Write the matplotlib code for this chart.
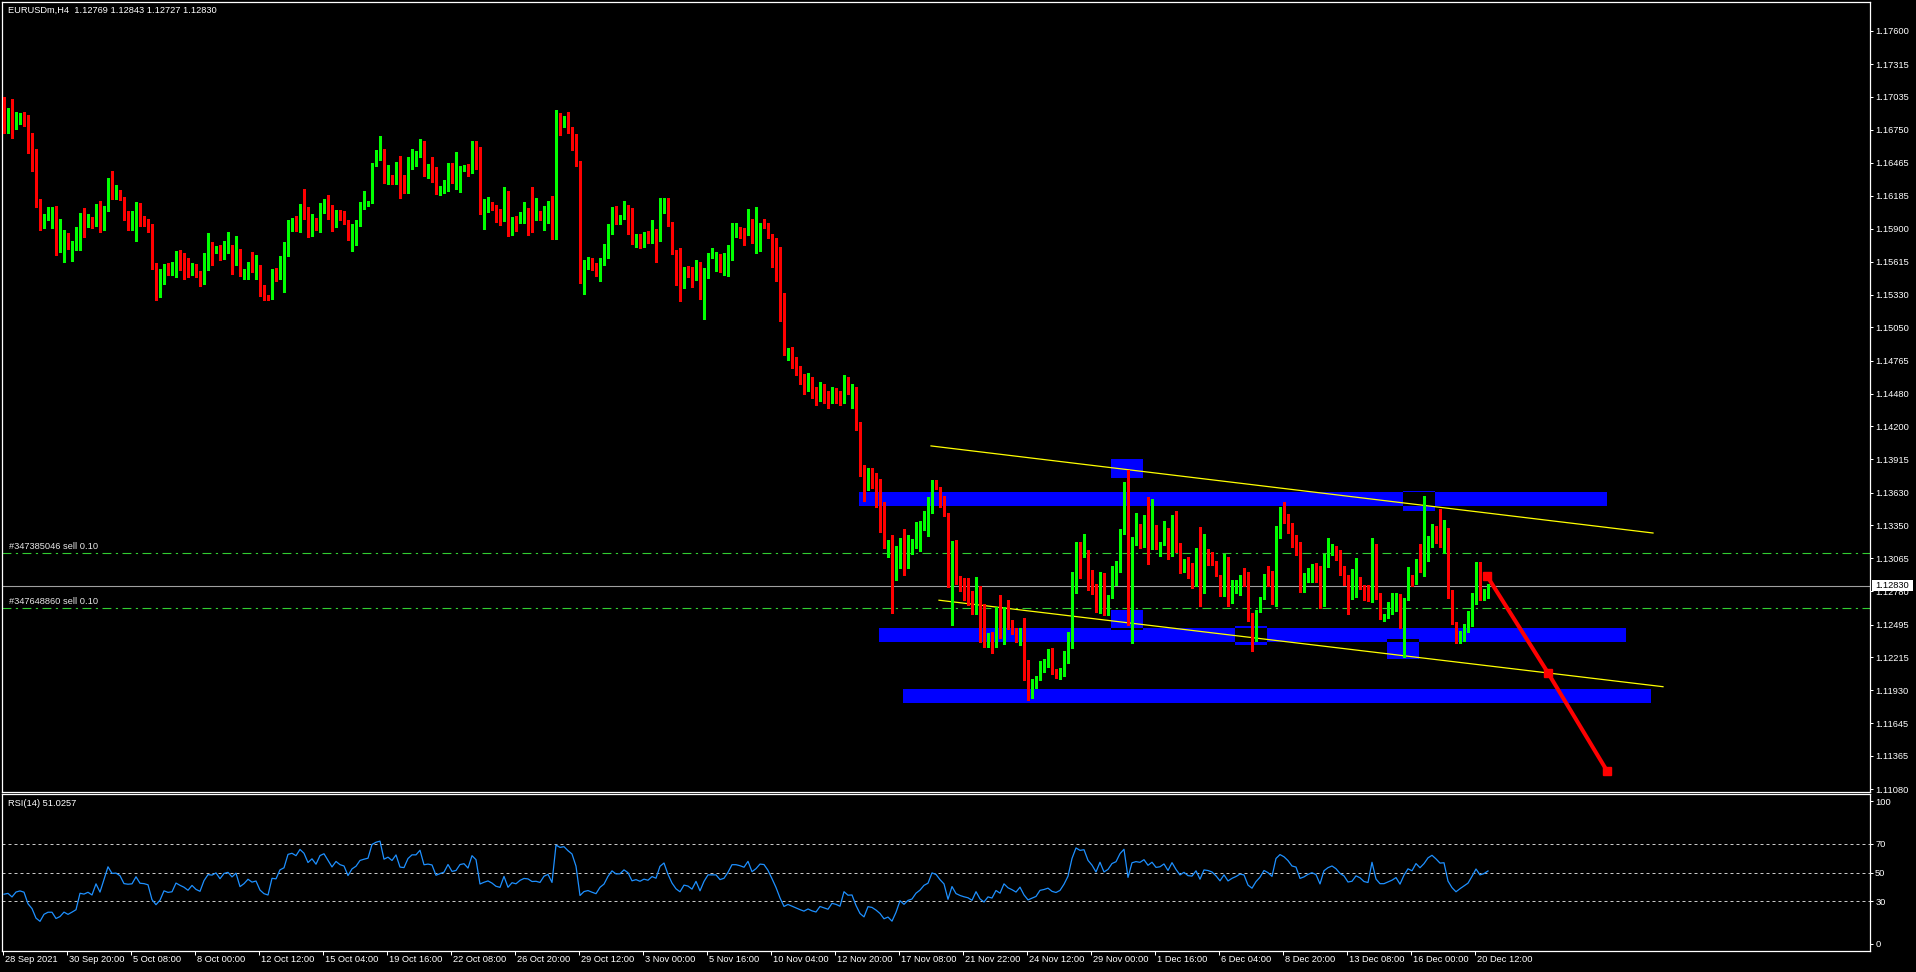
import numpy as np
import matplotlib
matplotlib.use('Agg')
import matplotlib.pyplot as plt
from matplotlib.patches import Rectangle
from matplotlib.transforms import blended_transform_factory

plt.rcParams['font.family'] = ['Liberation Sans', 'DejaVu Sans']
FS = 6.7
FG = 'white'

# ---------------- data (EURUSDm H4) ----------------
first_open = 1.16921

closes = [
    1.16863, 1.16872, 1.16803, 1.16852, 1.16863, 1.16843, 1.16614, 1.16484, 1.16114, 1.15933,
    1.16017, 1.16042, 1.16042, 1.15753, 1.15776, 1.15827, 1.15733, 1.15758, 1.15784, 1.15982,
    1.15962, 1.15985, 1.15925, 1.16068, 1.15890, 1.16086, 1.16335, 1.16200, 1.16206, 1.16154,
    1.15982, 1.15968, 1.15974, 1.16086, 1.15956, 1.15948, 1.15925, 1.15552, 1.15374, 1.15440,
    1.15586, 1.15543, 1.15552, 1.15689, 1.15638, 1.15595, 1.15526, 1.15595, 1.15509, 1.15466,
    1.15618, 1.15715, 1.15707, 1.15741, 1.15646, 1.15724, 1.15741, 1.15672, 1.15724, 1.15494,
    1.15534, 1.15595, 1.15546, 1.15560, 1.15397, 1.15322, 1.15293, 1.15509, 1.15500, 1.15638,
    1.15672, 1.15939, 1.15965, 1.15933, 1.16077, 1.16028, 1.15899, 1.15974, 1.15896, 1.16077,
    1.16120, 1.16028, 1.15925, 1.16034, 1.15985, 1.15965, 1.15810, 1.15925, 1.15974, 1.16086,
    1.16111, 1.16131, 1.16464, 1.16533, 1.16568, 1.16312, 1.16361, 1.16309, 1.16439, 1.16235,
    1.16226, 1.16430, 1.16525, 1.16525, 1.16645, 1.16407, 1.16421, 1.16407, 1.16218, 1.16249,
    1.16275, 1.16421, 1.16301, 1.16318, 1.16430, 1.16447, 1.16381, 1.16637, 1.16576, 1.16068,
    1.16103, 1.16129, 1.16077, 1.15999, 1.15974, 1.16163, 1.15896, 1.15982, 1.15956, 1.16017,
    1.16051, 1.16042, 1.15991, 1.15994, 1.15974, 1.16060, 1.16086, 1.15956, 1.16843, 1.16800,
    1.16826, 1.16757, 1.16700, 1.16464, 1.15491, 1.15595, 1.15621, 1.15552, 1.15491, 1.15638,
    1.15715, 1.15913, 1.16068, 1.15982, 1.15985, 1.16086, 1.16017, 1.15801, 1.15827, 1.15784,
    1.15827, 1.15801, 1.15870, 1.15836, 1.16077, 1.16154, 1.15922, 1.15704, 1.15534, 1.15440,
    1.15569, 1.15543, 1.15457, 1.15603, 1.15328, 1.15526, 1.15681, 1.15681, 1.15681, 1.15569,
    1.15595, 1.15715, 1.15888, 1.15888, 1.15870, 1.15844, 1.15965, 1.15784, 1.15844, 1.15939,
    1.15931, 1.15836, 1.15681, 1.15483, 1.15173, 1.14820, 1.14854, 1.14780, 1.14700, 1.14620,
    1.14550, 1.14580, 1.14500, 1.14450, 1.14520, 1.14470, 1.14420, 1.14490, 1.14460, 1.14403,
    1.14581, 1.14495, 1.14498, 1.14196, 1.13852, 1.13660, 1.13815, 1.13780, 1.13660, 1.13487,
    1.13152, 1.13178, 1.12876, 1.13023, 1.13238, 1.13066, 1.13143, 1.13169, 1.13281, 1.13341,
    1.13436, 1.13479, 1.13703, 1.13668, 1.13539, 1.13427, 1.12885, 1.13178, 1.12885, 1.12799,
    1.12739, 1.12695, 1.12583, 1.12764, 1.12454, 1.12300, 1.12411, 1.12360, 1.12523, 1.12420,
    1.12635, 1.12497, 1.12429, 1.12342, 1.12446, 1.12162, 1.11946, 1.11981, 1.12015, 1.12136,
    1.12153, 1.12179, 1.12084, 1.12050, 1.12084, 1.12187, 1.12334, 1.12773, 1.13160, 1.13109,
    1.13135, 1.12911, 1.12799, 1.12627, 1.12919, 1.12652, 1.12730, 1.12919, 1.12980, 1.13281,
    1.13470, 1.12575, 1.13238, 1.13298, 1.13272, 1.13401, 1.13203, 1.13341, 1.13160, 1.13186,
    1.13298, 1.13083, 1.13393, 1.13160, 1.12954, 1.13048, 1.12928, 1.12911, 1.13083, 1.12790,
    1.13110, 1.13090, 1.13041, 1.12915, 1.12743, 1.12921, 1.12708, 1.12783, 1.12835, 1.12903,
    1.12880, 1.12562, 1.12450, 1.12611, 1.12723, 1.12912, 1.12852, 1.12748, 1.13325, 1.13489,
    1.13432, 1.13334, 1.13190, 1.13162, 1.12826, 1.12869, 1.12938, 1.12981, 1.12932, 1.12662,
    1.13015, 1.13110, 1.13162, 1.13093, 1.12972, 1.12903, 1.12731, 1.12748, 1.12869, 1.12820,
    1.12725, 1.12700, 1.13188, 1.12717, 1.12553, 1.12553, 1.12596, 1.12637, 1.12697, 1.12510,
    1.12723, 1.12895, 1.12846, 1.13050, 1.12950, 1.13067, 1.13248, 1.13334, 1.13259, 1.13170,
    1.13179, 1.12725, 1.12507, 1.12352, 1.12421, 1.12482, 1.12542, 1.12697, 1.12886, 1.12734,
    1.12766, 1.12830,
]

highs = [
    1.17035, 1.16938, 1.17015, 1.16903, 1.16898, 1.16903, 1.16878, 1.16723, 1.16585, 1.16154,
    1.16025, 1.16086, 1.16086, 1.16094, 1.15982, 1.15888, 1.15862, 1.15790, 1.15913, 1.16034,
    1.16077, 1.16025, 1.15996, 1.16111, 1.16137, 1.16097, 1.16335, 1.16398, 1.16275, 1.16229,
    1.16169, 1.16051, 1.16051, 1.16129, 1.16117, 1.16008, 1.15979, 1.15939, 1.15606, 1.15552,
    1.15592, 1.15606, 1.15612, 1.15707, 1.15715, 1.15689, 1.15649, 1.15601, 1.15598, 1.15534,
    1.15689, 1.15862, 1.15784, 1.15750, 1.15758, 1.15793, 1.15870, 1.15758, 1.15836, 1.15724,
    1.15552, 1.15612, 1.15698, 1.15672, 1.15586, 1.15414, 1.15328, 1.15552, 1.15560, 1.15664,
    1.15784, 1.15974, 1.15991, 1.16008, 1.16111, 1.16241, 1.16086, 1.16025, 1.15991, 1.16120,
    1.16154, 1.16189, 1.16103, 1.16060, 1.16060, 1.16051, 1.15974, 1.15942, 1.15974, 1.16129,
    1.16223, 1.16140, 1.16464, 1.16576, 1.16697, 1.16585, 1.16447, 1.16361, 1.16473, 1.16525,
    1.16361, 1.16516, 1.16585, 1.16568, 1.16671, 1.16654, 1.16456, 1.16516, 1.16427, 1.16266,
    1.16318, 1.16464, 1.16464, 1.16559, 1.16439, 1.16447, 1.16456, 1.16654, 1.16654, 1.16602,
    1.16154, 1.16172, 1.16129, 1.16103, 1.16068, 1.16258, 1.16223, 1.15999, 1.16008, 1.16042,
    1.16129, 1.16077, 1.16258, 1.16163, 1.16051, 1.16094, 1.16137, 1.16180, 1.16921, 1.16895,
    1.16869, 1.16903, 1.16774, 1.16714, 1.16482, 1.15629, 1.15655, 1.15646, 1.15603, 1.15646,
    1.15767, 1.15939, 1.16086, 1.16094, 1.16017, 1.16137, 1.16103, 1.16077, 1.15853, 1.15853,
    1.15870, 1.15879, 1.15974, 1.15896, 1.16163, 1.16163, 1.16163, 1.15956, 1.15715, 1.15733,
    1.15569, 1.15578, 1.15569, 1.15629, 1.15612, 1.15560, 1.15690, 1.15733, 1.15698, 1.15681,
    1.15690, 1.15758, 1.15948, 1.15948, 1.15913, 1.15905, 1.16068, 1.15982, 1.16086, 1.15948,
    1.15982, 1.15948, 1.15853, 1.15819, 1.15741, 1.15345, 1.14872, 1.14880, 1.14800, 1.14720,
    1.14650, 1.14660, 1.14620, 1.14540, 1.14580, 1.14560, 1.14500, 1.14540, 1.14530, 1.14500,
    1.14641, 1.14624, 1.14564, 1.14538, 1.14237, 1.13866, 1.13841, 1.13841, 1.13797, 1.13746,
    1.13548, 1.13221, 1.13264, 1.13169, 1.13238, 1.13315, 1.13264, 1.13229, 1.13376, 1.13384,
    1.13470, 1.13591, 1.13737, 1.13737, 1.13677, 1.13599, 1.13453, 1.13212, 1.13221, 1.12911,
    1.12893, 1.12893, 1.12781, 1.12902, 1.12825, 1.12670, 1.12420, 1.12429, 1.12644, 1.12747,
    1.12644, 1.12704, 1.12532, 1.12463, 1.12463, 1.12549, 1.12187, 1.12024, 1.12050, 1.12179,
    1.12196, 1.12282, 1.12291, 1.12110, 1.12119, 1.12265, 1.12429, 1.12945, 1.13203, 1.13203,
    1.13272, 1.13109, 1.12962, 1.12842, 1.12945, 1.12936, 1.12747, 1.12997, 1.13040, 1.13315,
    1.13720, 1.13823, 1.13246, 1.13453, 1.13358, 1.13436, 1.13591, 1.13574, 1.13350, 1.13203,
    1.13384, 1.13324, 1.13436, 1.13470, 1.13195, 1.13057, 1.13074, 1.13023, 1.13152, 1.13333,
    1.13274, 1.13145, 1.13119, 1.13033, 1.12921, 1.13101, 1.13076, 1.12878, 1.12878, 1.12921,
    1.12981, 1.12946, 1.12596, 1.12619, 1.12731, 1.12929, 1.12998, 1.12955, 1.13343, 1.13506,
    1.13549, 1.13446, 1.13368, 1.13265, 1.13205, 1.12938, 1.12981, 1.13015, 1.13024, 1.12998,
    1.13101, 1.13239, 1.13188, 1.13170, 1.13136, 1.12998, 1.12921, 1.12972, 1.13067, 1.12903,
    1.12835, 1.12835, 1.13239, 1.13179, 1.12766, 1.12588, 1.12691, 1.12766, 1.12766, 1.12757,
    1.12723, 1.12990, 1.12921, 1.13058, 1.13188, 1.13601, 1.13256, 1.13360, 1.13343, 1.13489,
    1.13394, 1.13325, 1.12792, 1.12516, 1.12438, 1.12499, 1.12611, 1.12766, 1.13033, 1.13033,
    1.12800, 1.12843,
]

lows = [
    1.16720, 1.16726, 1.16683, 1.16754, 1.16797, 1.16780, 1.16553, 1.16398, 1.16088, 1.15890,
    1.15908, 1.15971, 1.15908, 1.15675, 1.15701, 1.15615, 1.15727, 1.15623, 1.15715, 1.15718,
    1.15830, 1.15916, 1.15908, 1.15933, 1.15873, 1.15888, 1.16054, 1.16152, 1.16152, 1.16149,
    1.15974, 1.15890, 1.15890, 1.15793, 1.15925, 1.15925, 1.15873, 1.15552, 1.15285, 1.15313,
    1.15425, 1.15500, 1.15500, 1.15486, 1.15543, 1.15468, 1.15486, 1.15497, 1.15486, 1.15408,
    1.15425, 1.15543, 1.15586, 1.15689, 1.15629, 1.15641, 1.15689, 1.15509, 1.15589, 1.15494,
    1.15466, 1.15468, 1.15529, 1.15468, 1.15319, 1.15285, 1.15285, 1.15293, 1.15448, 1.15466,
    1.15354, 1.15664, 1.15879, 1.15879, 1.15870, 1.15985, 1.15830, 1.15836, 1.15888, 1.15873,
    1.16037, 1.15985, 1.15882, 1.15913, 1.15974, 1.15942, 1.15804, 1.15710, 1.15761, 1.15925,
    1.16071, 1.16097, 1.16123, 1.16441, 1.16490, 1.16292, 1.16286, 1.16286, 1.16284, 1.16163,
    1.16209, 1.16206, 1.16413, 1.16439, 1.16516, 1.16352, 1.16338, 1.16301, 1.16197, 1.16189,
    1.16206, 1.16223, 1.16295, 1.16241, 1.16215, 1.16396, 1.16352, 1.16378, 1.16410, 1.16025,
    1.15896, 1.16042, 1.16057, 1.15956, 1.15931, 1.15965, 1.15836, 1.15844, 1.15879, 1.15948,
    1.15948, 1.15844, 1.15870, 1.15974, 1.15974, 1.15888, 1.15948, 1.15810, 1.15810, 1.16705,
    1.16774, 1.16723, 1.16576, 1.16439, 1.15431, 1.15336, 1.15552, 1.15543, 1.15491, 1.15448,
    1.15586, 1.15646, 1.15853, 1.15939, 1.15939, 1.15982, 1.15853, 1.15767, 1.15741, 1.15733,
    1.15741, 1.15776, 1.15776, 1.15612, 1.15793, 1.16034, 1.15922, 1.15681, 1.15414, 1.15276,
    1.15388, 1.15483, 1.15397, 1.15457, 1.15293, 1.15121, 1.15474, 1.15646, 1.15534, 1.15526,
    1.15500, 1.15491, 1.15629, 1.15827, 1.15819, 1.15758, 1.15844, 1.15776, 1.15689, 1.15707,
    1.15905, 1.15819, 1.15569, 1.15448, 1.15104, 1.14811, 1.14768, 1.14700, 1.14640, 1.14560,
    1.14480, 1.14500, 1.14440, 1.14380, 1.14420, 1.14400, 1.14360, 1.14400, 1.14400, 1.14380,
    1.14403, 1.14478, 1.14357, 1.14168, 1.13772, 1.13556, 1.13651, 1.13668, 1.13505, 1.13290,
    1.13152, 1.13074, 1.12592, 1.12876, 1.12980, 1.12919, 1.12980, 1.13100, 1.13152, 1.13126,
    1.13307, 1.13255, 1.13453, 1.13660, 1.13505, 1.13427, 1.12816, 1.12489, 1.12842, 1.12781,
    1.12704, 1.12661, 1.12583, 1.12592, 1.12342, 1.12300, 1.12300, 1.12248, 1.12300, 1.12377,
    1.12325, 1.12454, 1.12411, 1.12342, 1.12317, 1.12015, 1.11843, 1.11860, 1.11946, 1.12015,
    1.12084, 1.12127, 1.12067, 1.12032, 1.12024, 1.12050, 1.12162, 1.12291, 1.12764, 1.12893,
    1.13074, 1.12790, 1.12756, 1.12601, 1.12592, 1.12575, 1.12575, 1.12721, 1.12833, 1.12945,
    1.13272, 1.12489, 1.12334, 1.13178, 1.13152, 1.13161, 1.13014, 1.13143, 1.13143, 1.13083,
    1.13178, 1.13057, 1.13083, 1.13117, 1.12937, 1.12945, 1.12893, 1.12807, 1.12825, 1.12652,
    1.12763, 1.13007, 1.13007, 1.12915, 1.12743, 1.12743, 1.12657, 1.12682, 1.12769, 1.12751,
    1.12829, 1.12527, 1.12269, 1.12352, 1.12605, 1.12714, 1.12826, 1.12674, 1.12657, 1.13239,
    1.13368, 1.13282, 1.13162, 1.13093, 1.12777, 1.12777, 1.12863, 1.12863, 1.12863, 1.12639,
    1.12657, 1.12990, 1.13093, 1.13050, 1.12924, 1.12837, 1.12588, 1.12717, 1.12734, 1.12803,
    1.12708, 1.12700, 1.12691, 1.12717, 1.12545, 1.12527, 1.12562, 1.12588, 1.12614, 1.12467,
    1.12218, 1.12708, 1.12829, 1.12846, 1.12950, 1.12915, 1.13044, 1.13162, 1.13196, 1.13162,
    1.13107, 1.12725, 1.12499, 1.12335, 1.12338, 1.12352, 1.12430, 1.12482, 1.12671, 1.12708,
    1.12708, 1.12727,
]

price_ticks = [1.17600, 1.17315, 1.17035, 1.16750, 1.16465, 1.16185, 1.15900, 1.15615,
               1.15330, 1.15050, 1.14765, 1.14480, 1.14200, 1.13915, 1.13630, 1.13350,
               1.13065, 1.12780, 1.12495, 1.12215, 1.11930, 1.11645, 1.11365, 1.11080]
rsi_ticks = [100, 70, 50, 30, 0]
rsi_levels = [70, 50, 30]

time_labels = ['28 Sep 2021', '30 Sep 20:00', '5 Oct 08:00', '8 Oct 00:00', '12 Oct 12:00',
               '15 Oct 04:00', '19 Oct 16:00', '22 Oct 08:00', '26 Oct 20:00', '29 Oct 12:00',
               '3 Nov 00:00', '5 Nov 16:00', '10 Nov 04:00', '12 Nov 20:00', '17 Nov 08:00',
               '21 Nov 22:00', '24 Nov 12:00', '29 Nov 00:00', '1 Dec 16:00', '6 Dec 04:00',
               '8 Dec 20:00', '13 Dec 08:00', '16 Dec 00:00', '20 Dec 12:00']

# support / resistance zones (bar index span, price span)
band_x0 = [213.75, 218.75, 224.75]
band_x1 = [400.75, 405.5, 411.75]
band_lo = [1.13515, 1.12345, 1.11821]
band_hi = [1.13635, 1.12466, 1.11941]
box_x0 = [276.75, 276.75, 307.75, 345.75, 349.75]
box_lo = [1.13756, 1.12449, 1.12320, 1.12200, 1.13472]
box_hi = [1.13919, 1.12621, 1.12486, 1.12370, 1.13644]
BOX_W = 8

upper_tl_x, upper_tl_y = [231.75, 412.25], [1.14031, 1.13282]
lower_tl_x, lower_tl_y = [233.75, 414.75], [1.12704, 1.11960]
arrow_x, arrow_y = [370.75, 386.0, 400.75], [1.12913, 1.12079, 1.11236]

order_names = ['#347385046 sell 0.10', '#347648860 sell 0.10']
order_prices = [1.13111, 1.12638]
bid = 1.12830

# ---------------- figure ----------------
W, H, DPI = 1916, 972, 100
fig = plt.figure(figsize=(W / DPI, H / DPI), dpi=DPI, facecolor='black')


def px_box(l, t, r, b):
    return [l / W, 1 - b / H, (r - l) / W, (b - t) / H]


ax = fig.add_axes(px_box(2, 2, 1870, 792), facecolor='black')
rx = fig.add_axes(px_box(2, 794, 1870, 951), facecolor='black')

XMIN, XMAX = -0.5, 466.5
ax.set_xlim(XMIN, XMAX)
ax.set_ylim(1.110543, 1.178494)
rx.set_xlim(XMIN, XMAX)
rx.set_ylim(-4.9, 104.9)

for a in (ax, rx):
    for s in a.spines.values():
        s.set_color(FG)
        s.set_linewidth(0.9)

# zones; overlapping parts cancel out (XOR) like in the terminal
rects = [(x0, x1, lo, hi) for x0, x1, lo, hi in zip(band_x0, band_x1, band_lo, band_hi)]
rects += [(x0, x0 + BOX_W, lo, hi) for x0, lo, hi in zip(box_x0, box_lo, box_hi)]
for x0, x1, lo, hi in rects:
    ax.add_patch(Rectangle((x0, lo), x1 - x0, hi - lo, fc='#0000FF', ec='none', zorder=1))
for i in range(len(rects)):
    for j in range(i + 1, len(rects)):
        a0, a1, alo, ahi = rects[i]
        b0, b1, blo, bhi = rects[j]
        x0, x1 = max(a0, b0), min(a1, b1)
        lo, hi = max(alo, blo), min(ahi, bhi)
        if x1 > x0 and hi > lo:
            ax.add_patch(Rectangle((x0, lo), x1 - x0, hi - lo, fc='black', ec='none', zorder=1.5))

# trend lines
ax.plot(upper_tl_x, upper_tl_y, color='#FFFF00', lw=0.9, zorder=3)
ax.plot(lower_tl_x, lower_tl_y, color='#FFFF00', lw=0.9, zorder=3)

# open orders + bid line
blend = blended_transform_factory(ax.transAxes, ax.transData)
for name, p in zip(order_names, order_prices):
    ax.axhline(p, color='#32CD32', lw=0.8, ls=(0, (8, 4, 2, 4)), zorder=2)
    ax.annotate(name, xy=(0.0037, p), xycoords=blend, xytext=(0, 4.3),
                textcoords='offset points', color='#E6E6E6', fontsize=FS,
                ha='left', va='center', zorder=8)
ax.axhline(bid, color='#A0A0A0', lw=0.8, zorder=2)

# candles
c = np.array(closes)
n = len(c)
o = np.r_[first_open, c[:-1]]
hi = np.maximum(np.array(highs[:n]), np.maximum(o, c))
lo = np.minimum(np.array(lows[:n]), np.minimum(o, c))
idx = np.arange(n)
cols = np.where(c >= o, '#00FF00', '#FF0000')
ax.vlines(idx, lo, hi, colors=cols, lw=0.8, zorder=5, antialiased=False)
ax.bar(idx, np.maximum(np.abs(c - o), 0.00009), bottom=np.minimum(o, c), width=0.75,
       color=cols, lw=0, zorder=6, antialiased=False)

# forecast arrow
ax.plot(arrow_x, arrow_y, color='#FF0000', lw=2.9, zorder=7, solid_capstyle='butt')
ax.plot(arrow_x, arrow_y, ls='none', marker='s', ms=5.2, color='#FF0000', zorder=7)

# price axis
ax.set_xticks([])
ax.yaxis.tick_right()
ax.set_yticks(price_ticks)
ax.set_yticklabels([f'{v:.5f}' for v in price_ticks])
ax.tick_params(axis='y', colors=FG, labelsize=FS, length=2.5, width=0.72, pad=1.2, direction='out')

fig.text(8 / W, 1 - 10.5 / H, 'EURUSDm,H4  1.12769 1.12843 1.12727 1.12830',
         color=FG, fontsize=FS, ha='left', va='center')

fig.patches.append(Rectangle((1872 / W, 1 - 591 / H), 41 / W, 11 / H,
                             transform=fig.transFigure, fc='white', ec='none', zorder=3))
fig.text(1875 / W, 1 - 586 / H, f'{bid:.5f}', color='black', fontsize=FS,
         ha='left', va='center', zorder=4)

# RSI(14), Wilder smoothing from the closes
g, l = 0.00028, 0.00048
prev = first_open
rsi = []
for cl in c:
    d = cl - prev
    g = (g * 13 + max(d, 0)) / 14
    l = (l * 13 + max(-d, 0)) / 14
    rsi.append(100 * g / (g + l))
    prev = cl

for lv in rsi_levels:
    rx.axhline(lv, color='#C8C8C8', lw=0.72, ls=(0, (3, 3)), zorder=1)
rx.plot(idx, rsi, color='#1E90FF', lw=0.9, zorder=3)
rx.yaxis.tick_right()
rx.set_yticks(rsi_ticks)
rx.set_yticklabels([str(v) for v in rsi_ticks])
rx.tick_params(axis='y', colors=FG, labelsize=FS, length=2.5, width=0.72, pad=1.2, direction='out')
fig.text(8 / W, 1 - 803.5 / H, 'RSI(14) 51.0257', color=FG, fontsize=FS, ha='left', va='center')

# time axis
tick_bars = [-0.25] + [15.75 + 16 * j for j in range(len(time_labels) - 1)]
rx.set_xticks(tick_bars)
rx.set_xticklabels([''] * len(tick_bars))
rx.tick_params(axis='x', colors=FG, length=3, width=0.72, direction='out')
tblend = blended_transform_factory(rx.transData, rx.transAxes)
for xb, lab in zip(tick_bars, time_labels):
    rx.text(xb + 0.4, -0.057, lab, transform=tblend, color=FG, fontsize=FS,
            ha='left', va='center', clip_on=False)

fig.savefig('out.png', dpi=DPI, facecolor='black')
